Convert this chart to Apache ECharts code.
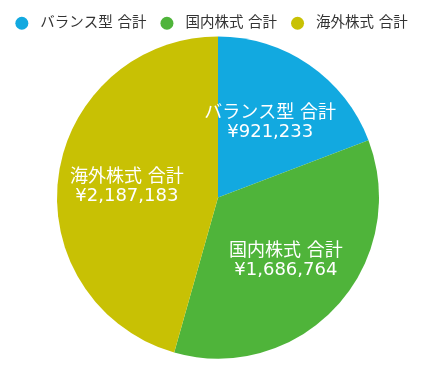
<!DOCTYPE html>
<html><head><meta charset="utf-8">
<script src="https://cdn.jsdelivr.net/npm/echarts@6/dist/echarts.min.js"></script>
<style>html,body{margin:0;padding:0;background:#fff}#c{width:423px;height:371px}</style>
</head><body><div id="c"></div>
<script>
const categories = ['バランス型 合計', '国内株式 合計', '海外株式 合計'];
const values = [921233, 1686764, 2187183];
const colors = ['#12a9e0', '#4fb43a', '#c8c104'];

const fmt = v => '¥' + v.toLocaleString('en-US');
const font = '"DejaVu Sans", "Noto Sans CJK JP", sans-serif';
const data = categories.map((n, i) => ({ name: n, value: values[i], itemStyle: { color: colors[i] } }));

const chart = echarts.init(document.getElementById('c'), null, { renderer: 'canvas' });
chart.setOption({
  animation: false,
  legend: {
    top: 11, left: 'center', icon: 'circle', itemWidth: 27, itemHeight: 13, itemGap: 14,
    textStyle: { color: '#333', fontSize: 14.5, fontFamily: font }
  },
  series: [{
    type: 'pie', center: [218, 197.5], radius: [0, 161], startAngle: 90, clockwise: true,
    label: { show: false }, labelLine: { show: false }, data: data,
    itemStyle: { borderWidth: 0 }
  }, {
    type: 'pie', center: [218, 199], radius: [17, 161], startAngle: 90, clockwise: true, silent: true,
    legendHoverLink: false,
    data: data.map(d => ({ name: d.name, value: d.value, itemStyle: { color: 'rgba(0,0,0,0)' } })),
    label: {
      show: true, position: 'inside', color: '#fff', fontSize: 18, lineHeight: 19, fontFamily: font,
      formatter: p => p.name + '\n' + fmt(p.value)
    },
    labelLine: { show: false }
  }]
});
</script></body></html>
